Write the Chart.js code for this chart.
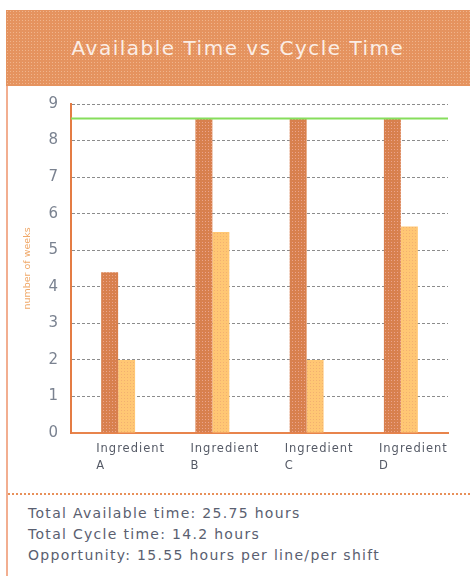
<!DOCTYPE html>
<html>
<head>
<meta charset="utf-8">
<script src="https://cdn.jsdelivr.net/npm/chart.js@4/dist/chart.umd.min.js"></script>
<style>
  body { margin: 0; width: 470px; height: 576px; background: #fff; position: relative; overflow: hidden; font-family: "DejaVu Sans", Verdana, sans-serif; }
  #frame { position: absolute; left: 6px; top: 10px; width: 2px; height: 566px; background: #F2AE90; }
  #banner { position: absolute; left: 6px; top: 10px; width: 464px; height: 76px;
    background-color: #E5935F;
    background-image: radial-gradient(#F0B48C 35%, transparent 40%);
    background-size: 3px 3px;
    color: #fbeee6; font-size: 20px; text-align: center; line-height: 76px; letter-spacing: 1.5px; }
  #chartBox { position: absolute; left: 0; top: 82px; width: 470px; height: 400px; }
  #sep { position: absolute; left: 8px; top: 493px; width: 462px; border-top: 2px dotted #E8905A; }
  #summary { position: absolute; left: 28px; top: 503px; font-size: 14px; line-height: 21px; letter-spacing: 1.3px; color: #5a6070; }
</style>
</head>
<body>
<div id="frame"></div>
<div id="banner">Available Time vs Cycle Time</div>
<div id="chartBox"><canvas id="timeChart"></canvas></div>
<div id="sep"></div>
<div id="summary">
  <div>Total Available time: 25.75 hours</div>
  <div>Total Cycle time: 14.2 hours</div>
  <div>Opportunity: 15.55 hours per line/per shift</div>
</div>
<script>
// Data
const categories = ["A", "B", "C", "D"];
const availableTime = [4.4, 8.6, 8.6, 8.6];
const cycleTime = [2.0, 5.5, 2.0, 5.65];
const shiftLimit = 8.6;
const yTicks = [0, 1, 2, 3, 4, 5, 6, 7, 8, 9];

// Dotted fill patterns like the original image
function makePattern(base, dot) {
    const c = document.createElement("canvas");
    c.width = 3; c.height = 3;
    const g = c.getContext("2d");
    g.fillStyle = base;
    g.fillRect(0, 0, 3, 3);
    g.fillStyle = dot;
    g.fillRect(1, 1, 1, 1);
    return g.createPattern(c, "repeat");
}

// Green limit line across the plot
const limitLine = {
    id: "limitLine",
    afterDatasetsDraw(chart) {
        const y = chart.scales.y.getPixelForValue(shiftLimit);
        const ctx = chart.ctx;
        ctx.save();
        ctx.strokeStyle = "#86DE5C";
        ctx.lineWidth = 2;
        ctx.beginPath();
        ctx.moveTo(chart.chartArea.left, y);
        ctx.lineTo(chart.chartArea.right, y);
        ctx.stroke();
        ctx.restore();
    }
};

// Category labels, left aligned under the first bar
const ingredientLabels = {
    id: "ingredientLabels",
    afterDraw(chart) {
        const ctx = chart.ctx;
        const bars = chart.getDatasetMeta(0).data;
        const base = chart.chartArea.bottom;
        ctx.save();
        ctx.fillStyle = "#555a66";
        ctx.font = "11.5px 'DejaVu Sans'";
        ctx.letterSpacing = "1px";
        ctx.textAlign = "left";
        ctx.textBaseline = "middle";
        categories.forEach((cat, i) => {
            const x = bars[i].x - bars[i].width / 2 - 5;
            ctx.fillText("Ingredient", x, base + 16);
            ctx.fillText(cat, x, base + 33);
        });
        ctx.restore();
    }
};

const ctx = document.getElementById("timeChart").getContext("2d");
new Chart(ctx, {
    type: "bar",
    data: {
        labels: categories,
        datasets: [{
            label: "Available Time",
            data: availableTime,
            backgroundColor: makePattern("#D8804E", "#EBA48C"),
            categoryPercentage: 0.36,
            barPercentage: 1
        }, {
            label: "Cycle Time",
            data: cycleTime,
            backgroundColor: makePattern("#FFC774", "#F2B070"),
            categoryPercentage: 0.36,
            barPercentage: 1
        }]
    },
    options: {
        responsive: true,
        maintainAspectRatio: false,
        animation: false,
        layout: { padding: { left: 0, top: 10, right: 22, bottom: 49 } },
        plugins: { legend: { display: false }, tooltip: { enabled: false } },
        scales: {
            x: {
                grid: { display: false, drawTicks: false },
                border: { display: true, color: "#E8844C", width: 2, dash: [2, 1] },
                ticks: { display: false }
            },
            y: {
                min: 0,
                max: 9,
                afterBuildTicks: (scale) => { scale.ticks = yTicks.map(v => ({ value: v })); },
                afterFit: (scale) => { scale.width = 71; },
                grid: { color: "#8c8c8c", drawTicks: false },
                border: { display: true, color: "#E47C44", width: 2, dash: [3, 2] },
                ticks: { padding: 13, color: "#7a8290", font: { size: 15, family: "DejaVu Sans" } },
                title: {
                    display: true,
                    text: "number of weeks",
                    color: "#F0A868",
                    font: { size: 9.5, family: "DejaVu Sans" },
                    padding: { top: 22, bottom: 0 }
                }
            }
        }
    },
    plugins: [limitLine, ingredientLabels]
});
</script>
</body>
</html>
